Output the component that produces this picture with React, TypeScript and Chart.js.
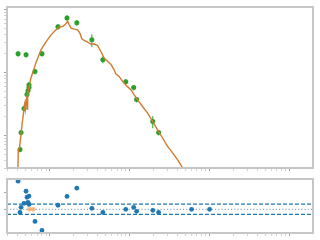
import React, { useEffect, useRef } from "react";
import { Chart, registerables } from "chart.js";

Chart.register(...registerables);

// Axis ranges
const X_MIN = 0.292;
const X_MAX = 1995;
const Y_MIN = 0.307;
const Y_MAX = 110;
const R_MIN = -1.39;
const R_MAX = 1.78;

// Observed points (top panel)
const obsX = [0.402, 0.506, 0.425, 0.438, 0.477, 0.52, 0.535, 0.551, 0.551, 0.655, 0.801, 1.27, 1.65, 2.19, 3.38, 4.64, 8.99, 11.3, 12.3, 19.6, 23.2, 60.1, 100.9];
const obsY = [19.8, 19.1, 0.593, 1.1, 2.65, 4.43, 5.12, 5.72, 6.38, 10.3, 19.8, 53.1, 73.8, 61.5, 33.0, 15.9, 7.12, 5.72, 3.69, 1.65, 1.1, 0.12, 0.05];
const obsYErr = [2.0, 1.9, 0.06, 0.11, 0.27, 0.45, 0.5, 0.57, 0.64, 1.0, 2.0, 5.3, 7.4, 6.2, 7.5, 2.0, 0.7, 0.57, 0.37, 0.36, 0.11, 0.01, 0.005];
const obsXErr = [0.025, 0.03, 0.025, 0.025, 0.028, 0.03, 0.03, 0.033, 0.033, 0.04, 0.05, 0.08, 0.1, 0.13, 0.2, 0.28, 0.55, 0.7, 0.75, 1.2, 1.4, 3.6, 6];

// Model curve (top panel)
const modelX = [0.398, 0.405, 0.419, 0.438, 0.451, 0.471, 0.484, 0.495, 0.506, 0.517, 0.523, 0.53, 0.543, 0.559, 0.584, 0.613, 0.674, 0.778, 0.899, 1.04, 1.2, 1.31, 1.45, 1.55, 1.68, 1.76, 1.85, 2.03, 2.24, 2.39, 2.53, 2.71, 2.99, 3.28, 3.61, 3.98, 4.38, 4.81, 5.31, 5.84, 6.42, 6.74, 7.41, 8.18, 9.44, 10.4, 11.4, 12.6, 14.5, 16.8, 19.4, 22.4, 25.9, 29.9, 34.5, 39.8, 45.4, 52.0];
const modelY = [0.238, 0.593, 0.638, 1.03, 1.48, 2.29, 3.07, 2.56, 3.69, 4.27, 2.6, 4.59, 5.31, 6.38, 8.24, 9.89, 14.3, 22.9, 30.7, 39.6, 47.6, 52.6, 53.7, 57.2, 65.0, 57.2, 50.7, 48.9, 47.6, 42.2, 34.3, 32.2, 30.4, 28.3, 28.3, 26.8, 21.5, 16.9, 15.0, 13.5, 11.0, 9.53, 8.64, 7.19, 5.93, 5.31, 4.43, 3.69, 2.89, 2.27, 1.67, 1.23, 0.91, 0.669, 0.526, 0.411, 0.315, 0.229];

// Residuals (bottom panel), aligned with obsX
const resY = [1.65, 1.06, -0.18, 0.12, 0.35, 0.71, 0.41, 0.78, 0.29, -0.71, -1.24, 0.24, 0.76, 1.24, 0.06, -0.18, 0.0, 0.12, -0.12, -0.06, -0.18, 0.0, 0.0];
// Highlighted residuals (orange)
const limX = [0.556, 0.624];
const limY = [0, 0];
// Reference levels
const bandLow = -0.3;
const bandHigh = 0.3;
const zeroLevel = 0;

const GREEN = "#2ca02c";
const ORANGE_LINE = "#d27a2e";
const BLUE = "#1f77b4";
const SPINE = "#c6c6c6";

const isNiceLog = (v: number) => {
  const e = Math.floor(Math.log10(v) + 1e-9);
  const s = v / Math.pow(10, e);
  return Math.abs(s - Math.round(s)) < 1e-6;
};

const tickColor = (ctx: any) => (ctx.tick && ctx.tick.major ? "#a0a0a0" : "#d2d2d2");

const spinePlugin = {
  id: "spines",
  afterDraw(chart: any) {
    const { ctx, chartArea: a } = chart;
    ctx.save();
    ctx.strokeStyle = SPINE;
    ctx.lineWidth = 2;
    ctx.strokeRect(a.left, a.top, a.right - a.left, a.bottom - a.top);
    ctx.restore();
  },
};

const errorBarPlugin = {
  id: "errbars",
  beforeDatasetsDraw(chart: any) {
    const { ctx, chartArea: a, scales } = chart;
    const xs = scales.x;
    const ys = scales.y;
    ctx.save();
    ctx.beginPath();
    ctx.rect(a.left, a.top, a.right - a.left, a.bottom - a.top);
    ctx.clip();
    ctx.strokeStyle = GREEN;
    ctx.lineWidth = 1;
    for (let i = 0; i < obsX.length; i++) {
      const px = xs.getPixelForValue(obsX[i]);
      const py = ys.getPixelForValue(obsY[i]);
      const y1 = ys.getPixelForValue(Math.max(obsY[i] - obsYErr[i], 1e-6));
      const y2 = ys.getPixelForValue(obsY[i] + obsYErr[i]);
      const x1 = xs.getPixelForValue(Math.max(obsX[i] - obsXErr[i], 1e-6));
      const x2 = xs.getPixelForValue(obsX[i] + obsXErr[i]);
      ctx.beginPath();
      ctx.moveTo(px, y1);
      ctx.lineTo(px, y2);
      ctx.moveTo(x1, py);
      ctx.lineTo(x2, py);
      ctx.stroke();
    }
    ctx.restore();
  },
};

const logAxis = (min: number, max: number) => ({
  type: "logarithmic" as const,
  min,
  max,
  ticks: { display: false },
  grid: { drawOnChartArea: false, drawTicks: true, tickLength: 3, tickColor, tickWidth: 1 },
  border: { display: false },
  afterBuildTicks: (scale: any) => {
    scale.ticks = scale.ticks.filter((t: any) => isNiceLog(t.value));
  },
});

export default function App() {
  const topRef = useRef<HTMLCanvasElement>(null);
  const botRef = useRef<HTMLCanvasElement>(null);

  useEffect(() => {
    document.body.style.margin = "0";
    const top = new Chart(topRef.current as HTMLCanvasElement, {
      type: "scatter",
      data: {
        datasets: [
          {
            data: modelX.map((x, i) => ({ x, y: modelY[i] })),
            showLine: true,
            borderColor: ORANGE_LINE,
            borderWidth: 1.4,
            pointRadius: 0,
            tension: 0,
          },
          {
            data: obsX.map((x, i) => ({ x, y: obsY[i] })),
            backgroundColor: GREEN,
            borderWidth: 0,
            pointRadius: 2.5,
          },
        ],
      },
      options: {
        animation: false,
        responsive: false,
        events: [],
        layout: { padding: { left: 4, right: 7, top: 7, bottom: 5 } },
        plugins: { legend: { display: false }, tooltip: { enabled: false } },
        scales: {
          x: logAxis(X_MIN, X_MAX),
          y: logAxis(Y_MIN, Y_MAX),
        },
      } as any,
      plugins: [errorBarPlugin, spinePlugin],
    });

    const hline = (y: number) => [
      { x: X_MIN, y },
      { x: X_MAX, y },
    ];

    const bot = new Chart(botRef.current as HTMLCanvasElement, {
      type: "scatter",
      data: {
        datasets: [
          {
            data: resY.map((y, i) => ({ x: obsX[i], y })),
            backgroundColor: BLUE,
            borderWidth: 0,
            pointRadius: 2.4,
          },
          {
            data: limX.map((x, i) => ({ x, y: limY[i] })),
            backgroundColor: "rgba(255,127,14,0.5)",
            borderWidth: 0,
            pointRadius: 2.4,
          },
          {
            data: hline(bandHigh),
            showLine: true,
            borderColor: BLUE,
            borderWidth: 1.2,
            borderDash: [4, 2],
            pointRadius: 0,
          },
          {
            data: hline(bandLow),
            showLine: true,
            borderColor: BLUE,
            borderWidth: 1.2,
            borderDash: [4, 2],
            pointRadius: 0,
          },
          {
            data: hline(zeroLevel),
            showLine: true,
            borderColor: "rgba(90,125,160,0.65)",
            borderWidth: 1.2,
            borderDash: [1.2, 2],
            pointRadius: 0,
          },
        ],
      },
      options: {
        animation: false,
        responsive: false,
        events: [],
        layout: { padding: { left: 4, right: 7, top: 7, bottom: 4 } },
        plugins: { legend: { display: false }, tooltip: { enabled: false } },
        scales: {
          x: logAxis(X_MIN, X_MAX),
          y: {
            type: "linear",
            min: R_MIN,
            max: R_MAX,
            ticks: { display: false, stepSize: 1 },
            grid: { drawOnChartArea: false, drawTicks: true, tickLength: 3, tickColor: "#a8a8a8" },
            border: { display: false },
            afterBuildTicks: (scale: any) => {
              scale.ticks = scale.ticks.filter((t: any) => Math.abs(t.value - Math.round(t.value)) < 1e-9);
            },
          },
        },
      } as any,
      plugins: [spinePlugin],
    });

    return () => {
      top.destroy();
      bot.destroy();
    };
  }, []);

  return (
    <div style={{ position: "fixed", left: 0, top: 0, width: 320, height: 240, background: "#fff" }}>
      <canvas ref={topRef} width={320} height={176} style={{ position: "absolute", left: 0, top: 0, width: 320, height: 176 }} />
      <canvas ref={botRef} width={320} height={68} style={{ position: "absolute", left: 0, top: 172, width: 320, height: 68 }} />
    </div>
  );
}
